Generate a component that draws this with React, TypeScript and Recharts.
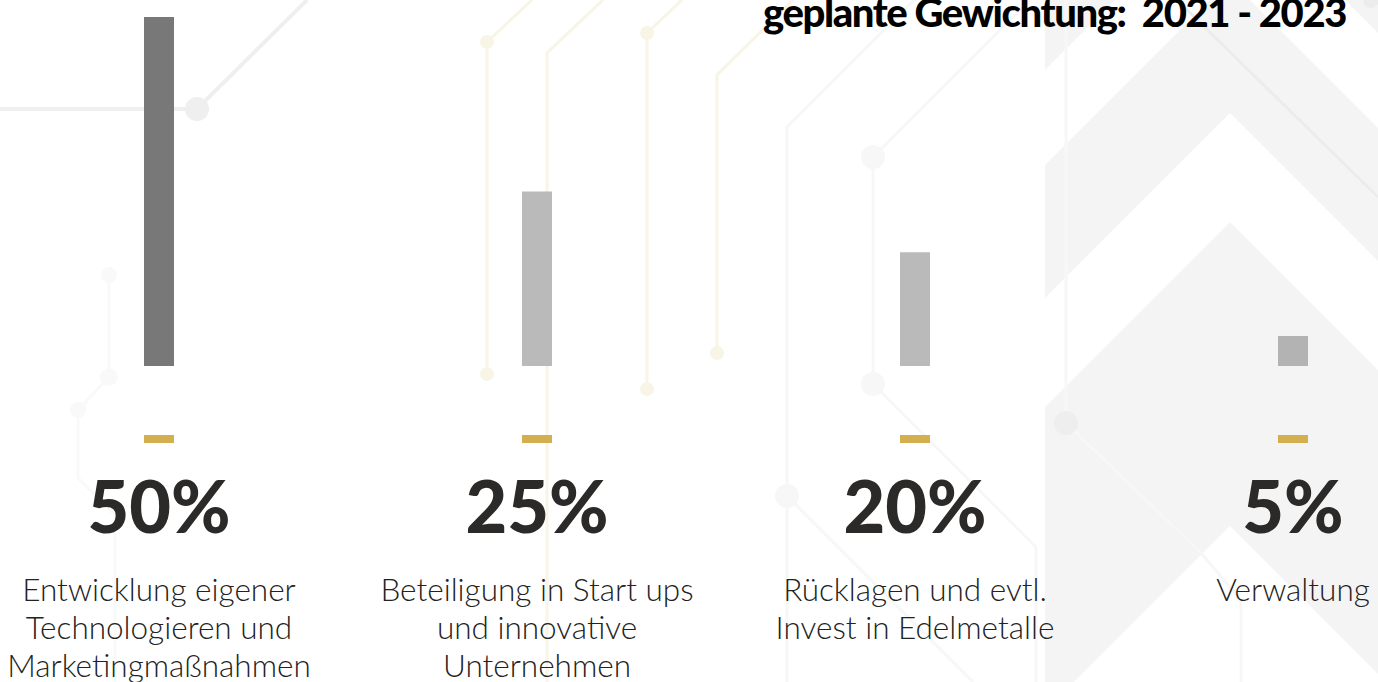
import React from 'react';
import { BarChart, Bar, XAxis, YAxis, Cell } from 'recharts';

// ---- data ----
const categories = ['Entwicklung', 'Beteiligung', 'Rücklagen', 'Verwaltung'];
const barValues = [50, 25, 16.3, 4.3];
const percentLabels = ['50%', '25%', '20%', '5%'];
const descriptionLines = [
  ['Entwicklung eigener', 'Technologieren und', 'Marketingmaßnahmen'],
  ['Beteiligung in Start ups', 'und innovative', 'Unternehmen'],
  ['Rücklagen und evtl.', 'Invest in Edelmetalle'],
  ['Verwaltung'],
];
const barColors = ['#787878', '#bababa', '#bababa', '#b3b3b3'];
const titleText = 'geplante Gewichtung:  2021 - 2023';

const data = categories.map((name, i) => ({ name, value: barValues[i] }));

const W = 1378;
const H = 682;

const CategoryTick = (props: any) => {
  const { x, y, index } = props;
  const lines = descriptionLines[index] || [];
  return (
    <g>
      <rect x={x - 15} y={y + 69} width={30} height={8} fill="#d4af50" />
      <text
        x={x}
        y={y + 167}
        textAnchor="middle"
        fontFamily="Lato"
        fontWeight={900}
        fontSize={72}
        fill="#2b2a28"
      >
        {percentLabels[index]}
      </text>
      <text textAnchor="middle" fontFamily="Lato" fontWeight={300} fontSize={31.5} fill="#222222">
        {lines.map((l, k) => (
          <tspan key={k} x={x} y={y + 235 + k * 38}>
            {l}
          </tspan>
        ))}
      </text>
    </g>
  );
};

const chevron = (t: number, b: number) => {
  const L = 1045;
  const A = 1230;
  const R = 1378;
  return `${L},${t + (A - L)} ${A},${t} ${R},${t + (R - A)} ${R},${b + (R - A)} ${A},${b} ${L},${b + (A - L)}`;
};

const Background = () => (
  <svg width={W} height={H} style={{ position: 'absolute', left: 0, top: 0 }}>
    <rect x={0} y={0} width={W} height={H} fill="#ffffff" />
    {/* right chevron area */}
    <rect x={1045} y={0} width={W - 1045} height={H} fill="#f4f4f4" />
    <polygon points={chevron(-115, -20)} fill="#ffffff" />
    <polygon points={chevron(113, 222)} fill="#ffffff" />
    <polygon points={chevron(526, 760)} fill="#ffffff" />
    {/* grey circuit lines */}
    <g stroke="#efefef" strokeWidth={4} fill="none">
      <polyline points="0,109 197,109 307,0" />
    </g>
    <circle cx={197} cy={109} r={12} fill="#efefef" />
    <g stroke="#f9f9f9" strokeWidth={3} fill="none">
      <polyline points="109,275 109,377 78,410 78,478 115,515 115,682" />
    </g>
    <circle cx={109} cy={275} r={8} fill="#f9f9f9" />
    <circle cx={109} cy={377} r={9} fill="#f9f9f9" />
    <circle cx={78} cy={410} r={8} fill="#f9f9f9" />
    {/* cream lines */}
    <g stroke="#f8f5e6" strokeWidth={3} fill="none">
      <polyline points="532,0 487,42 487,374" />
      <polyline points="603,0 547,53 547,682" />
      <polyline points="682,0 647,33 647,390" />
      <polyline points="793,0 717,75 717,353" />
    </g>
    <g fill="#f8f5e6">
      <circle cx={487} cy={42} r={7} />
      <circle cx={487} cy={374} r={7} />
      <circle cx={647} cy={33} r={7} />
      <circle cx={647} cy={389} r={7} />
      <circle cx={717} cy={353} r={7} />
    </g>
    {/* faint grey lines middle */}
    <g stroke="#f7f7f7" strokeWidth={3} fill="none">
      <polyline points="914,0 787,127 787,682" />
      <polyline points="787,496 973,682" />
      <polyline points="1030,0 873,157 873,384 1036,547 1036,682" />
      <polyline points="1066,0 1066,423 1201,553 1241,600 1241,682" />
    </g>
    <g fill="#f7f7f7">
      <circle cx={787} cy={496} r={12} />
      <circle cx={873} cy={157} r={12} />
      <circle cx={873} cy={384} r={12} />
    </g>
    <circle cx={1066} cy={423} r={12} fill="#eeeeee" />
    <line x1={1177} y1={0} x2={1378} y2={197} stroke="#ececec" strokeWidth={3} />
    <circle cx={1371} cy={0} r={8} fill="#ececec" />
    {/* title */}
    <text
      x={1346}
      y={27}
      textAnchor="end"
      fontFamily="Lato"
      fontWeight={900}
      fontSize={40}
      letterSpacing={-1.4}
      fill="#000000"
      style={{ whiteSpace: 'pre' }}
    >
      {titleText}
    </text>
  </svg>
);

export default function App() {
  return (
    <div style={{ position: 'fixed', left: 0, top: 0, width: W, height: H, overflow: 'hidden', background: '#fff' }}>
      <Background />
      <div style={{ position: 'absolute', left: 0, top: 0 }}>
        <BarChart width={W} height={H} data={data} margin={{ top: 17, right: -104, bottom: 0, left: -30 }}>
          <XAxis
            dataKey="name"
            height={316}
            axisLine={false}
            tickLine={false}
            tickSize={0}
            tickMargin={0}
            interval={0}
            tick={<CategoryTick />}
          />
          <YAxis hide domain={[0, 50]} />
          <Bar dataKey="value" barSize={30} isAnimationActive={false}>
            {data.map((d, i) => (
              <Cell key={d.name} fill={barColors[i]} />
            ))}
          </Bar>
        </BarChart>
      </div>
    </div>
  );
}
